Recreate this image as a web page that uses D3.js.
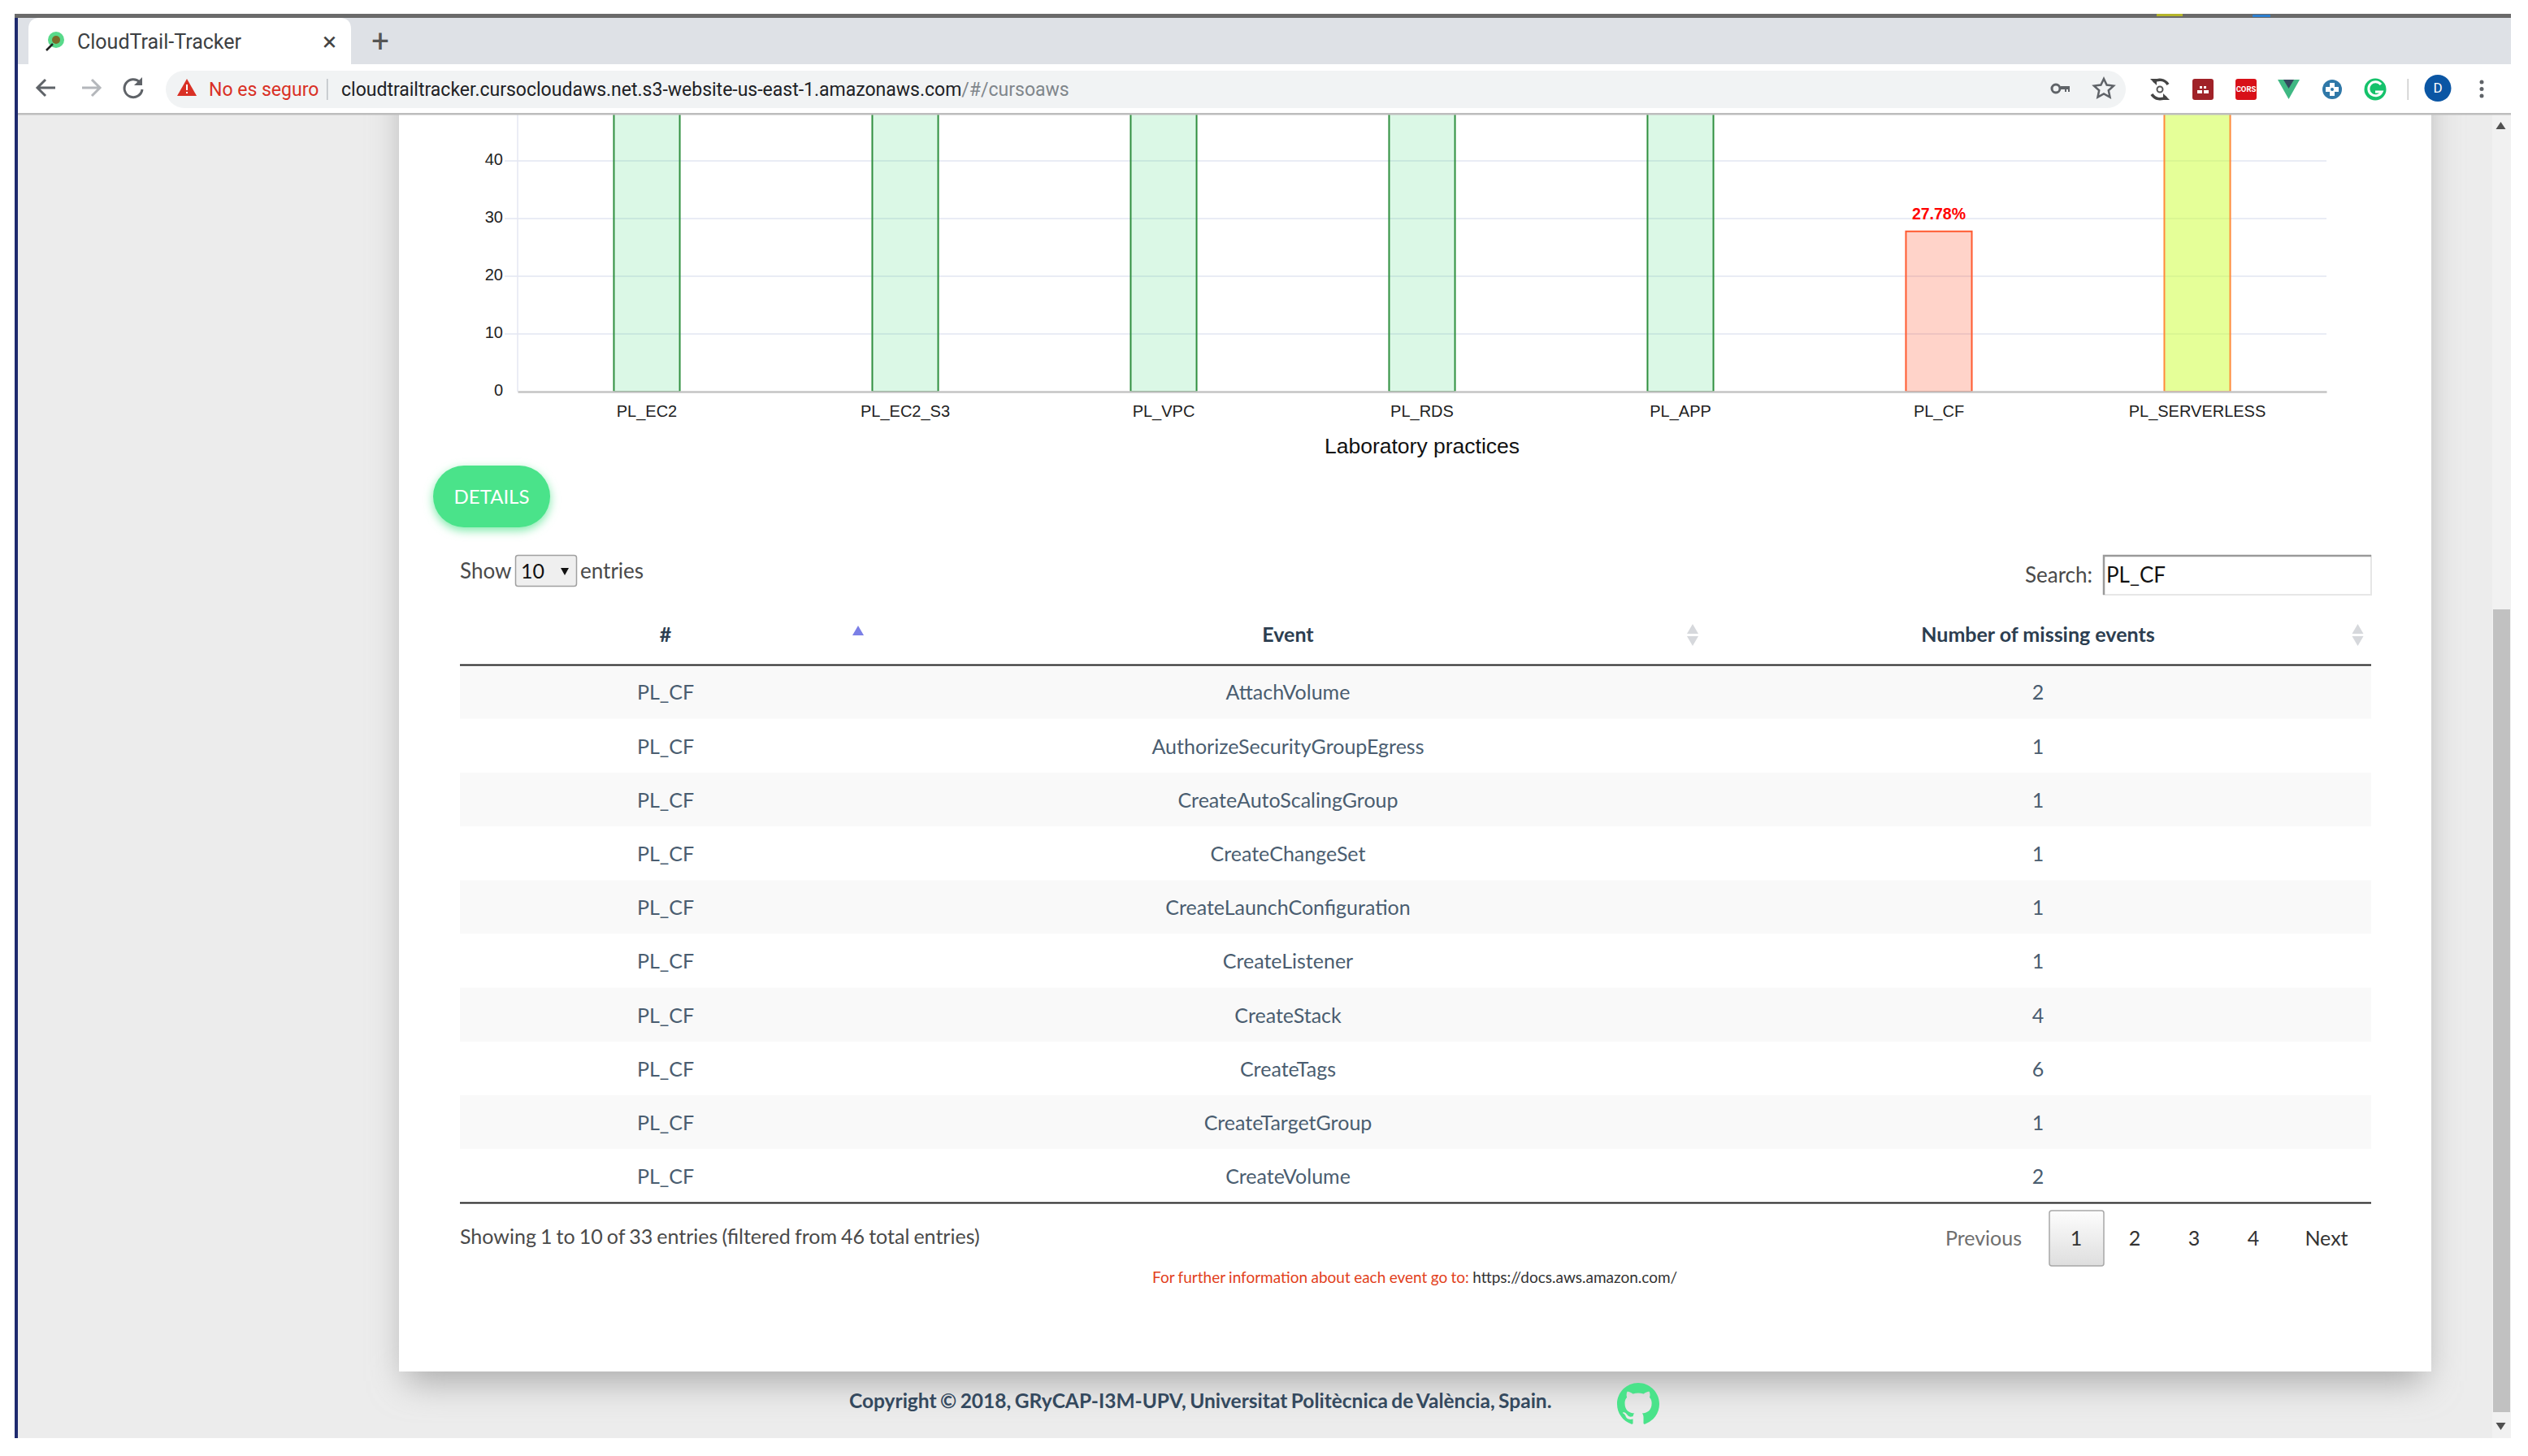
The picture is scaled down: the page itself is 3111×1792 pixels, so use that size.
<!DOCTYPE html>
<html>
<head>
<meta charset="utf-8">
<title>CloudTrail-Tracker</title>
<script src="https://cdn.jsdelivr.net/npm/d3@7"></script>
<style>
  html, body { margin: 0; padding: 0; background: #fff; overflow: hidden; }
  svg { display: block; }
  text { font-family: Lato, sans-serif; }
  .chart text { font-family: 'Liberation Sans', Arial, sans-serif; }
  .browser text { font-family: Roboto, sans-serif; }
</style>
</head>
<body>
<div id="page"></div>
<script>
// Chart values. The tops of most bars are scrolled out of the window, so only PL_CF can be read.
const practices = ['PL_EC2', 'PL_EC2_S3', 'PL_VPC', 'PL_RDS', 'PL_APP', 'PL_CF', 'PL_SERVERLESS'];
const percentages = [100, 100, 100, 100, 100, 27.78, 66.67];
const barLabels = [{ practice: 'PL_CF', value: 27.78, text: '27.78%' }];
const barStates = ['ok', 'ok', 'ok', 'ok', 'ok', 'low', 'mid'];
const yTicks = [0, 10, 20, 30, 40];

// Table values
const tableColumns = ['#', 'Event', 'Number of missing events'];
const rowPractice = ['PL_CF', 'PL_CF', 'PL_CF', 'PL_CF', 'PL_CF', 'PL_CF', 'PL_CF', 'PL_CF', 'PL_CF', 'PL_CF'];
const rowEvents = [
  'AttachVolume',
  'AuthorizeSecurityGroupEgress',
  'CreateAutoScalingGroup',
  'CreateChangeSet',
  'CreateLaunchConfiguration',
  'CreateListener',
  'CreateStack',
  'CreateTags',
  'CreateTargetGroup',
  'CreateVolume',
];
const rowMissing = [2, 1, 1, 1, 1, 1, 4, 6, 1, 2];
const pagerLabels = ['Previous', '1', '2', '3', '4', 'Next'];

const width = 3111;
const height = 1792;
const win = { left: 22, top: 22, right: 3090, bottom: 1770, content: 141 };
const green = '#4ae38a';
const slate = '#34495e';

const svg = d3
  .select('#page')
  .append('svg')
  .attr('width', width)
  .attr('height', height)
  .attr('viewBox', `0 0 ${width} ${height}`);

const defs = svg.append('defs');

// everything below the toolbar is cut by the window
defs
  .append('clipPath')
  .attr('id', 'viewport')
  .append('rect')
  .attr('x', win.left)
  .attr('y', win.content)
  .attr('width', win.right - win.left)
  .attr('height', win.bottom - win.content);

const blur = defs
  .append('filter')
  .attr('id', 'card-shadow')
  .attr('x', '-10%')
  .attr('y', '-10%')
  .attr('width', '120%')
  .attr('height', '120%');
blur.append('feGaussianBlur').attr('stdDeviation', 22);

const glow = defs
  .append('filter')
  .attr('id', 'button-shadow')
  .attr('x', '-30%')
  .attr('y', '-30%')
  .attr('width', '160%')
  .attr('height', '160%');
glow.append('feGaussianBlur').attr('stdDeviation', 6);

const scrollGrad = defs
  .append('linearGradient')
  .attr('id', 'btn-grad')
  .attr('x1', 0)
  .attr('x2', 0)
  .attr('y1', 0)
  .attr('y2', 1);
scrollGrad.append('stop').attr('offset', '0%').attr('stop-color', '#fdfdfd');
scrollGrad.append('stop').attr('offset', '100%').attr('stop-color', '#dedede');

drawPage();
drawChart();
drawControls();
drawTable();
drawFooter();
drawBrowser();

function label(parent, x, y, text, size, color, anchor, weight) {
  return parent
    .append('text')
    .attr('x', x)
    .attr('y', y)
    .attr('dy', '0.35em')
    .attr('font-size', size)
    .attr('fill', color)
    .attr('text-anchor', anchor || 'start')
    .attr('font-weight', weight || 400)
    .text(text);
}

function drawPage() {
  const page = svg.append('g').attr('clip-path', 'url(#viewport)');

  page
    .append('rect')
    .attr('x', win.left)
    .attr('y', win.content)
    .attr('width', win.right - win.left)
    .attr('height', win.bottom - win.content)
    .attr('fill', '#ececec');

  // soft shadow, then the white card
  page
    .append('rect')
    .attr('x', 499)
    .attr('y', 60)
    .attr('width', 2485)
    .attr('height', 1640)
    .attr('fill', '#a8a8a8')
    .attr('filter', 'url(#card-shadow)');
  page
    .append('rect')
    .attr('x', 491)
    .attr('y', 60)
    .attr('width', 2501)
    .attr('height', 1628)
    .attr('fill', '#fff');

  // scrollbar
  page
    .append('rect')
    .attr('x', 3067)
    .attr('y', win.content)
    .attr('width', 23)
    .attr('height', win.bottom - win.content)
    .attr('fill', '#f1f1f1');
  page
    .append('rect')
    .attr('x', 3068)
    .attr('y', 750)
    .attr('width', 21)
    .attr('height', 988)
    .attr('fill', '#c1c1c1');
  page.append('path').attr('d', 'M3077.5 150l6 9h-12z').attr('fill', '#505050');
  page.append('path').attr('d', 'M3077.5 1760l6 -9h-12z').attr('fill', '#505050');
}

function drawChart() {
  const margin = { left: 637, right: 2863, zero: 482 };
  const unit = 7.1; // pixels per percent

  const x = d3.scaleBand().domain(practices).range([margin.left, margin.right]);
  const barWidth = x.bandwidth() * 0.255;

  const y = d3
    .scaleLinear()
    .domain([0, 100])
    .range([margin.zero, margin.zero - unit * 100]);

  const chart = svg.append('g').attr('class', 'chart').attr('clip-path', 'url(#viewport)');

  // Gridlines
  chart
    .append('g')
    .selectAll('line')
    .data(yTicks.slice(1))
    .enter()
    .append('line')
    .attr('x1', margin.left - 16)
    .attr('x2', margin.right)
    .attr('y1', function (d) {
      return y(d);
    })
    .attr('y2', function (d) {
      return y(d);
    })
    .attr('stroke', '#e9ecf5')
    .attr('stroke-width', 2);

  chart
    .append('line')
    .attr('x1', margin.left)
    .attr('x2', margin.left)
    .attr('y1', y(100))
    .attr('y2', margin.zero)
    .attr('stroke', '#e4e7f2')
    .attr('stroke-width', 1.5);

  // Bars
  const fills = { ok: 'rgba(76,222,128,0.2)', low: 'rgba(255,69,30,0.24)', mid: 'rgba(204,255,50,0.5)' };
  const strokes = { ok: '#2f8f3f', low: '#ff5a30', mid: '#ff8a3a' };

  chart
    .append('g')
    .selectAll('rect')
    .data(practices)
    .enter()
    .append('rect')
    .attr('x', function (d) {
      return x(d) + (x.bandwidth() - barWidth) / 2;
    })
    .attr('y', function (d, i) {
      return y(percentages[i]);
    })
    .attr('width', barWidth)
    .attr('height', function (d, i) {
      return margin.zero - y(percentages[i]);
    })
    .attr('fill', function (d, i) {
      return fills[barStates[i]];
    })
    .attr('stroke', function (d, i) {
      return strokes[barStates[i]];
    })
    .attr('stroke-width', 2);

  // Label above the only bar whose top is on screen
  chart
    .append('g')
    .selectAll('text')
    .data(barLabels)
    .enter()
    .append('text')
    .attr('x', function (d) {
      return x(d.practice) + x.bandwidth() / 2;
    })
    .attr('y', function (d) {
      return y(d.value) - 22;
    })
    .attr('dy', '0.35em')
    .attr('text-anchor', 'middle')
    .attr('font-size', 19.5)
    .attr('font-weight', 700)
    .attr('fill', '#ff0000')
    .text(function (d) {
      return d.text;
    });

  // Y axis
  const yAxis = chart
    .append('g')
    .attr('transform', `translate(${margin.left}, -1.5)`)
    .call(d3.axisLeft(y).tickValues(yTicks).tickSize(0).tickPadding(18));
  yAxis.select('.domain').remove();
  yAxis.selectAll('text').attr('font-size', 20).attr('fill', '#222');

  // X axis
  const xAxis = chart
    .append('g')
    .attr('transform', `translate(0, ${margin.zero})`)
    .call(d3.axisBottom(x).tickSize(0).tickPadding(17));
  xAxis.select('.domain').attr('stroke', '#c4c4c4').attr('stroke-width', 2.5);
  xAxis.selectAll('text').attr('font-size', 20).attr('fill', '#222');

  label(chart, (margin.left + margin.right) / 2, 549, 'Laboratory practices', 26.5, '#111', 'middle');
}

function drawControls() {
  const g = svg.append('g').attr('class', 'controls');

  // Details button
  g.append('rect')
    .attr('x', 533)
    .attr('y', 577)
    .attr('width', 144)
    .attr('height', 76)
    .attr('rx', 38)
    .attr('fill', '#7deaa9')
    .attr('filter', 'url(#button-shadow)');
  g.append('rect')
    .attr('x', 533)
    .attr('y', 573)
    .attr('width', 144)
    .attr('height', 76)
    .attr('rx', 38)
    .attr('fill', green);
  label(g, 605, 612, 'DETAILS', 24, '#fff', 'middle');

  // Page length
  label(g, 566, 703, 'Show', 26, '#4a4a4a');
  g.append('rect')
    .attr('x', 634.5)
    .attr('y', 683.5)
    .attr('width', 75)
    .attr('height', 38)
    .attr('rx', 3)
    .attr('fill', '#efefef')
    .attr('stroke', '#a0a0a0')
    .attr('stroke-width', 1.5);
  label(g, 641, 703, '10', 25, '#111');
  g.append('path').attr('d', 'M690 699h10l-5 9z').attr('fill', '#111');
  label(g, 714, 703, 'entries', 26, '#4a4a4a');

  // Search box
  label(g, 2492, 708, 'Search:', 26, '#4a4a4a');
  g.append('rect')
    .attr('x', 2589)
    .attr('y', 684)
    .attr('width', 329)
    .attr('height', 48)
    .attr('fill', '#fff')
    .attr('stroke', '#e6e6e6')
    .attr('stroke-width', 2);
  g.append('path')
    .attr('d', 'M2589 732V684H2918')
    .attr('fill', 'none')
    .attr('stroke', '#9a9a9a')
    .attr('stroke-width', 2.5);
  label(g, 2592, 708, 'PL_CF', 26, '#111');
}

function drawTable() {
  const left = 566;
  const right = 2918;
  const headerLine = 818.5;
  const rowHeight = 66.2;
  const columnCentres = [819, 1585, 2508];

  const rowY = d3
    .scaleBand()
    .domain(d3.range(rowEvents.length))
    .range([headerLine, headerLine + rowHeight * rowEvents.length]);

  const table = svg.append('g').attr('class', 'table');

  // Stripes
  table
    .append('g')
    .selectAll('rect')
    .data(rowEvents)
    .enter()
    .append('rect')
    .attr('x', left)
    .attr('y', function (d, i) {
      return rowY(i);
    })
    .attr('width', right - left)
    .attr('height', rowY.bandwidth())
    .attr('fill', function (d, i) {
      return i % 2 === 0 ? '#f9f9f9' : '#fff';
    });

  // Header
  tableColumns.forEach(function (name, i) {
    label(table, columnCentres[i], 781, name, 25, '#2c3e50', 'middle', 700);
  });
  table.append('path').attr('d', 'M1056 770l7 12h-14z').attr('fill', '#7b7fe6');
  [2083, 2901.5].forEach(function (cx) {
    table.append('path').attr('d', `M${cx} 768l7 12h-14z`).attr('fill', '#d6d8dc');
    table.append('path').attr('d', `M${cx} 795l7 -12h-14z`).attr('fill', '#d6d8dc');
  });

  table
    .append('line')
    .attr('x1', left)
    .attr('x2', right)
    .attr('y1', headerLine)
    .attr('y2', headerLine)
    .attr('stroke', '#222')
    .attr('stroke-width', 2);
  table
    .append('line')
    .attr('x1', left)
    .attr('x2', right)
    .attr('y1', rowY.range()[1])
    .attr('y2', rowY.range()[1])
    .attr('stroke', '#222')
    .attr('stroke-width', 2);

  // Cells
  [rowPractice, rowEvents, rowMissing].forEach(function (column, c) {
    table
      .append('g')
      .selectAll('text')
      .data(column)
      .enter()
      .append('text')
      .attr('x', columnCentres[c])
      .attr('y', function (d, i) {
        return rowY(i) + rowY.bandwidth() / 2 + 1;
      })
      .attr('dy', '0.35em')
      .attr('text-anchor', 'middle')
      .attr('font-size', 25)
      .attr('fill', '#4a5d70')
      .text(function (d) {
        return d;
      });
  });

  // Info and pager
  label(table, left, 1522.5, 'Showing 1 to 10 of 33 entries (filtered from 46 total entries)', 25, '#4a4a4a')
    .attr('word-spacing', -1.3);

  table
    .append('rect')
    .attr('x', 2522)
    .attr('y', 1490)
    .attr('width', 67)
    .attr('height', 68)
    .attr('rx', 3)
    .attr('fill', 'url(#btn-grad)')
    .attr('stroke', '#a8a8a8')
    .attr('stroke-width', 1.5);

  const pagerX = [2441, 2555, 2627, 2700, 2773, 2863];
  pagerLabels.forEach(function (name, i) {
    const color = i === 0 ? '#6f6f6f' : '#333';
    label(table, pagerX[i], 1524.5, name, 25, color, 'middle');
  });
}

function drawFooter() {
  const g = svg.append('g').attr('class', 'footer');

  const note = g
    .append('text')
    .attr('x', 1418)
    .attr('y', 1572)
    .attr('dy', '0.35em')
    .attr('font-size', 19)
    .attr('fill', '#e2401b')
    .attr('word-spacing', -0.5);
  note.append('tspan').text('For further information about each event go to: ');
  note.append('tspan').attr('fill', '#333').text('https://docs.aws.amazon.com/');

  label(g, 1045, 1724, 'Copyright © 2018, GRyCAP-I3M-UPV, Universitat Politècnica de València, Spain.', 24.5, slate, 'start', 700)
    .attr('word-spacing', -1.5);

  g.append('path')
    .attr('transform', 'translate(1990, 1702) scale(3.25)')
    .attr(
      'd',
      'M8 0C3.58 0 0 3.58 0 8c0 3.54 2.29 6.53 5.47 7.59.4.07.55-.17.55-.38 0-.19-.01-.82-.01-1.49-2.01.37-2.53-.49-2.69-.94-.09-.23-.48-.94-.82-1.13-.28-.15-.68-.52-.01-.53.63-.01 1.08.58 1.23.82.72 1.21 1.87.87 2.33.66.07-.52.28-.87.51-1.07-1.78-.2-3.64-.89-3.64-3.95 0-.87.31-1.59.82-2.15-.08-.2-.36-1.02.08-2.12 0 0 .67-.21 2.2.82.64-.18 1.32-.27 2-.27.68 0 1.36.09 2 .27 1.53-1.04 2.2-.82 2.2-.82.44 1.1.16 1.92.08 2.12.51.56.82 1.27.82 2.15 0 3.07-1.87 3.75-3.65 3.95.29.25.54.73.54 1.48 0 1.07-.01 1.93-.01 2.2 0 .21.15.46.55.38A8.013 8.013 0 0016 8c0-4.42-3.58-8-8-8z'
    )
    .attr('fill', green);
}

function drawBrowser() {
  const g = svg.append('g').attr('class', 'browser');
  const midY = 108;
  const iconY = 110;

  // window frame
  g.append('rect').attr('x', 18).attr('y', 17).attr('width', 3072).attr('height', 5).attr('fill', '#6a6a6a');
  g.append('rect').attr('x', 18).attr('y', 22).attr('width', 4).attr('height', 1748).attr('fill', '#1e2a6e');
  g.append('rect').attr('x', 22).attr('y', 22).attr('width', 3068).attr('height', 57).attr('fill', '#dee1e6');
  g.append('rect').attr('x', 22).attr('y', 79).attr('width', 3068).attr('height', 60).attr('fill', '#fff');
  g.append('rect').attr('x', 22).attr('y', 139).attr('width', 3068).attr('height', 2.5).attr('fill', '#bdbdbd');

  // bits of the desktop panel above the window
  g.append('rect').attr('x', 2654).attr('y', 17).attr('width', 32).attr('height', 3).attr('fill', '#b5b52a');
  g.append('rect').attr('x', 2772).attr('y', 18).attr('width', 22).attr('height', 3).attr('fill', '#2d7fd0');

  // active tab
  g.append('path')
    .attr('d', 'M35 79V36Q35 22 49 22H418Q432 22 432 36V79Z')
    .attr('fill', '#fff');
  g.append('circle').attr('cx', 69).attr('cy', 49).attr('r', 10).attr('fill', '#58d98a');
  g.append('circle').attr('cx', 69).attr('cy', 49).attr('r', 5).attr('fill', '#7a6a2a');
  g.append('line')
    .attr('x1', 65)
    .attr('y1', 54)
    .attr('x2', 57)
    .attr('y2', 62)
    .attr('stroke', '#222')
    .attr('stroke-width', 2.5);
  label(g, 95, 51, 'CloudTrail-Tracker', 25, '#3c4043');
  label(g, 405.5, 51, '×', 32, '#444', 'middle');
  label(g, 468, 51, '+', 38, '#555', 'middle');

  // navigation
  g.append('path')
    .attr('d', 'M68 108H47M56 98L46 108L56 118')
    .attr('fill', 'none')
    .attr('stroke', '#5f6368')
    .attr('stroke-width', 3);
  g.append('path')
    .attr('d', 'M101 108H122M113 98L123 108L113 118')
    .attr('fill', 'none')
    .attr('stroke', '#b4b7bb')
    .attr('stroke-width', 3);
  g.append('path')
    .attr('d', 'M172 101A11 11 0 1 0 175 110')
    .attr('fill', 'none')
    .attr('stroke', '#5f6368')
    .attr('stroke-width', 3);
  g.append('path').attr('d', 'M175 95V105H165Z').attr('fill', '#5f6368');

  // omnibox
  g.append('rect')
    .attr('x', 204)
    .attr('y', 87)
    .attr('width', 2412)
    .attr('height', 46)
    .attr('rx', 23)
    .attr('fill', '#f1f3f4');
  g.append('path').attr('d', 'M230 97l12 21h-24z').attr('fill', '#d93025');
  g.append('rect').attr('x', 229).attr('y', 104).attr('width', 2).attr('height', 7).attr('fill', '#fff');
  g.append('rect').attr('x', 229).attr('y', 113).attr('width', 2).attr('height', 2).attr('fill', '#fff');
  label(g, 257, midY + 2, 'No es seguro', 23, '#d93025');
  g.append('rect').attr('x', 402).attr('y', 97).attr('width', 1.5).attr('height', 26).attr('fill', '#bdc1c6');

  const url = g
    .append('text')
    .attr('x', 420)
    .attr('y', midY + 2)
    .attr('dy', '0.35em')
    .attr('font-size', 23)
    .attr('fill', '#202124');
  url.append('tspan').text('cloudtrailtracker.cursocloudaws.net.s3-website-us-east-1.amazonaws.com');
  url.append('tspan').attr('fill', '#80868b').text('/#/cursoaws');

  // key and star
  g.append('circle')
    .attr('cx', 2530)
    .attr('cy', midY + 1)
    .attr('r', 5)
    .attr('fill', 'none')
    .attr('stroke', '#5f6368')
    .attr('stroke-width', 3);
  g.append('path').attr('d', 'M2536 106h11v7h-2v-3h-2v3h-2v-3h-5z').attr('fill', '#5f6368');
  g.append('path')
    .attr('d', 'M2589 97l3.6 7.6 8.4 1-6.2 5.7 1.7 8.3-7.5-4.2-7.5 4.2 1.7-8.3-6.2-5.7 8.4-1z')
    .attr('fill', 'none')
    .attr('stroke', '#5f6368')
    .attr('stroke-width', 2.5);

  // extensions
  g.append('path')
    .attr('d', 'M2650 101A12 12 0 0 1 2668 104M2666 119A12 12 0 0 1 2648 116')
    .attr('fill', 'none')
    .attr('stroke', '#444')
    .attr('stroke-width', 3.5);
  g.append('path').attr('d', 'M2646 97h8v8zM2670 123h-8v-8z').attr('fill', '#444');
  g.append('circle').attr('cx', 2658).attr('cy', iconY).attr('r', 3.5).attr('fill', 'none').attr('stroke', '#555').attr('stroke-width', 2);

  g.append('rect').attr('x', 2698).attr('y', 97).attr('width', 26).attr('height', 26).attr('rx', 3).attr('fill', '#a02228');
  g.append('path').attr('d', 'M2707 106h3v3h-3zM2712 106h3v3h-3zM2704 111h6v4h-6zM2712 111h6v4h-6z').attr('fill', '#fff');
  g.append('rect').attr('x', 2751).attr('y', 97).attr('width', 26).attr('height', 26).attr('rx', 3).attr('fill', '#d81018');
  label(g, 2764, iconY, 'CORS', 9.5, '#fff', 'middle', 700);
  g.append('path').attr('d', 'M2803 98h27l-13.5 24z').attr('fill', '#3fb883');
  g.append('path').attr('d', 'M2810 98h13l-6.5 11z').attr('fill', '#34495e');
  g.append('circle').attr('cx', 2870).attr('cy', iconY).attr('r', 12).attr('fill', '#2f78a8');
  g.append('path').attr('d', 'M2867 102h6v5h5v6h-5v5h-6v-5h-5v-6h5z').attr('fill', '#fff');
  g.append('circle').attr('cx', 2870).attr('cy', iconY).attr('r', 2).attr('fill', '#2f78a8');
  g.append('circle').attr('cx', 2923).attr('cy', iconY).attr('r', 13.5).attr('fill', '#15c26b');
  g.append('path')
    .attr('d', 'M2930 104A8.5 8.5 0 1 0 2931 113H2923')
    .attr('fill', 'none')
    .attr('stroke', '#fff')
    .attr('stroke-width', 3);
  g.append('rect').attr('x', 2962.5).attr('y', 97).attr('width', 1.5).attr('height', 26).attr('fill', '#ccc');
  g.append('circle').attr('cx', 3000).attr('cy', 108.5).attr('r', 16.5).attr('fill', '#0b56a4');
  label(g, 3000, 108.5, 'D', 17, '#fff', 'middle');
  [101, 109.5, 118].forEach(function (cy) {
    g.append('circle').attr('cx', 3054).attr('cy', cy).attr('r', 2.5).attr('fill', '#5f6368');
  });
}
</script>
</body>
</html>
